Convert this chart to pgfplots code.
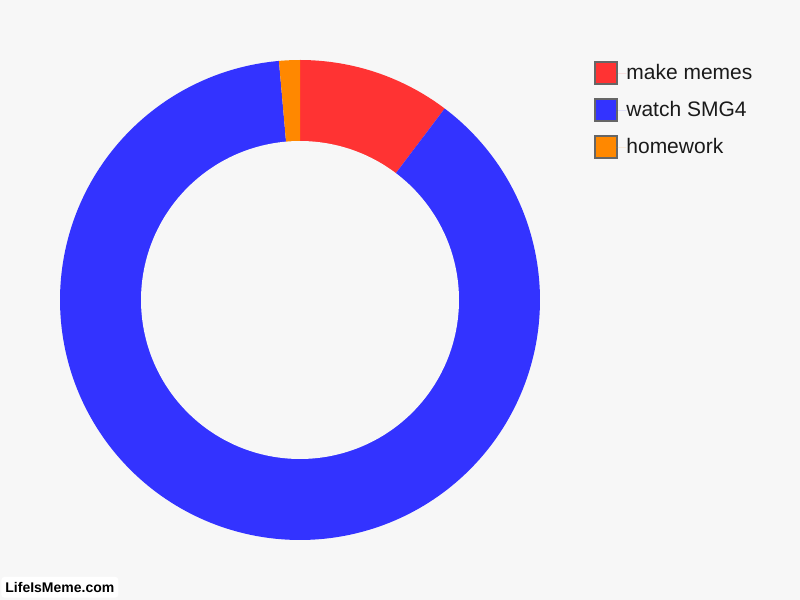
\documentclass[border=0pt]{standalone}
\usepackage{pgfplots}
\usepackage{pgfplotstable}
\pgfplotsset{compat=1.18}
\usepackage{fontspec}
\setmainfont{Liberation Sans}
\definecolor{bg}{HTML}{F7F7F7}
\definecolor{memes}{HTML}{FF3333}
\definecolor{smg}{HTML}{3333FF}
\definecolor{hw}{HTML}{FF8800}
\definecolor{legbord}{HTML}{666666}
\definecolor{txt}{HTML}{1A1A1A}

% share of each slice, in percent, clockwise from 12 o'clock
\pgfplotstableread{
label value
memes 10.3
smg 88.3
hw 1.4
}\slices

\begin{document}
\begin{tikzpicture}
\pgfplotstablegetelem{0}{value}\of\slices \let\vA\pgfplotsretval
\pgfplotstablegetelem{1}{value}\of\slices \let\vB\pgfplotsretval
\pgfplotstablegetelem{2}{value}\of\slices \let\vC\pgfplotsretval
\pgfmathsetmacro{\aA}{90}
\pgfmathsetmacro{\aB}{90-3.6*\vA}
\pgfmathsetmacro{\aC}{\aB-3.6*\vB}
\pgfmathsetmacro{\aD}{\aC-3.6*\vC}
\begin{axis}[
  width=400pt, height=300pt, scale only axis,
  xmin=0, xmax=800, ymin=0, ymax=600,
  axis lines=none, ticks=none,
  axis background/.style={fill=bg},
  legend style={at={(axis cs:594,539)}, anchor=north west, draw=none, fill=none,
    inner sep=0pt, row sep=6.5pt, font=\fontsize{10.5}{12}\selectfont\color{txt},
    nodes={inner sep=0pt, outer sep=0pt}},
  legend cell align=left,
  legend image code/.code={%
    \draw[#1, draw=legbord, line width=1pt] (0pt,-5.5pt) rectangle (11pt,5.5pt);
    \path (0pt,0pt) -- (15.5pt,0pt);},
]
\addplot[fill=memes, draw=none, domain=\aA:\aB, samples=40]
  ({300+240*cos(x)}, {300+240*sin(x)}) -- (axis cs:300,300) -- cycle;
\addlegendentry{make memes}
\addplot[fill=smg, draw=none, domain=\aB:\aC, samples=240]
  ({300+240*cos(x)}, {300+240*sin(x)}) -- (axis cs:300,300) -- cycle;
\addlegendentry{watch SMG4}
\addplot[fill=hw, draw=none, domain=\aC:\aD, samples=10]
  ({300+240*cos(x)}, {300+240*sin(x)}) -- (axis cs:300,300) -- cycle;
\addlegendentry{homework}
\addplot[fill=bg, draw=none, domain=0:360, samples=240, forget plot]
  ({300+159*cos(x)}, {300+159*sin(x)}) -- cycle;
\node[anchor=south west, fill=white, rounded corners=1.5pt, inner xsep=2pt, inner ysep=2.6pt,
  font=\fontsize{7}{8}\selectfont\bfseries, text=black]
  at (axis cs:1,2) {LifeIsMeme.com};
\end{axis}
\end{tikzpicture}
\end{document}
